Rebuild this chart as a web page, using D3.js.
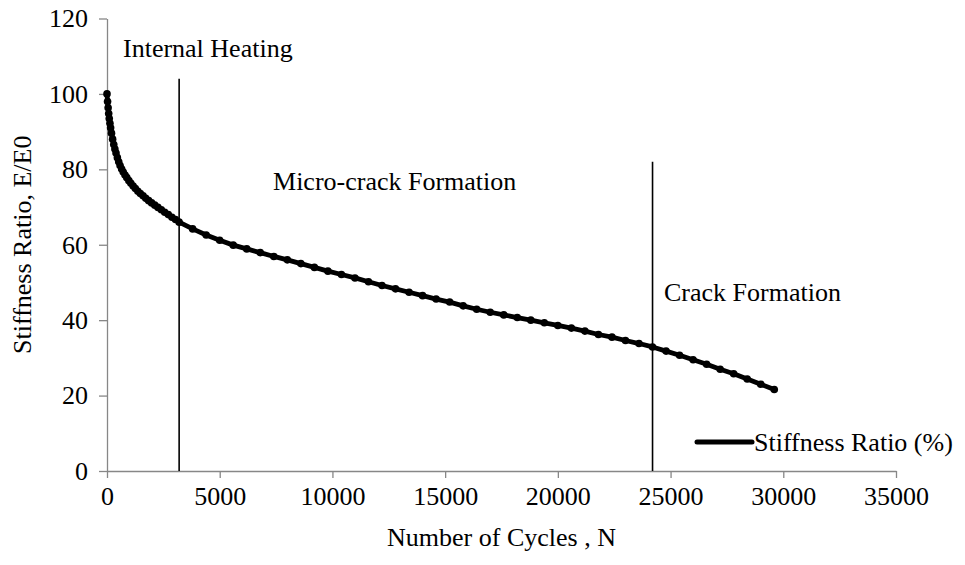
<!DOCTYPE html>
<html>
<head>
<meta charset="utf-8">
<script src="https://cdn.jsdelivr.net/npm/d3@7"></script>
<style>
  html, body { margin: 0; padding: 0; background: #fff; }
  svg { display: block; font-family: "Liberation Serif", "Times New Roman", serif; }
</style>
</head>
<body>
<svg id="chart" width="965" height="565"></svg>
<script>
// ---- data ----
const cycles = [0, 25, 50, 75, 100, 130, 160, 200, 250, 300, 350, 400, 460, 520, 580, 650, 720, 800, 880, 970,
  1060, 1160, 1260, 1370, 1480, 1600, 1720, 1850, 1980, 2120, 2260, 2410, 2560, 2720, 2880, 3040, 3200,
  3800, 4400, 5000, 5600, 6200, 6800, 7400, 8000, 8600, 9200, 9800, 10400, 11000, 11600, 12200, 12800,
  13400, 14000, 14600, 15200, 15800, 16400, 17000, 17600, 18200, 18800, 19400, 20000, 20600, 21200,
  21800, 22400, 23000, 23600, 24200, 24800, 25400, 26000, 26600, 27200, 27800, 28400, 29000, 29600];
const stiffness = [100, 98.0, 96.3, 94.8, 93.5, 92.2, 91.0, 89.6, 88.0, 86.6, 85.4, 84.3, 83.1, 82.0, 81.0, 80.1, 79.3, 78.5, 77.8, 77.0,
  76.3, 75.6, 74.9, 74.2, 73.6, 73.0, 72.3, 71.7, 71.1, 70.5, 69.9, 69.3, 68.6, 68.0, 67.3, 66.7, 66.0,
  64.2, 62.6, 61.2, 59.9, 58.9, 57.9, 56.9, 56.0, 55.0, 54.0, 53.0, 52.1, 51.2, 50.2, 49.2, 48.3,
  47.4, 46.5, 45.6, 44.8, 43.8, 42.9, 42.1, 41.4, 40.7, 40.0, 39.3, 38.6, 37.9, 37.1,
  36.2, 35.5, 34.6, 33.8, 32.9, 31.8, 30.7, 29.5, 28.3, 27.0, 25.8, 24.4, 23.0, 21.6];
const xTicks = [0, 5000, 10000, 15000, 20000, 25000, 30000, 35000];
const yTicks = [0, 20, 40, 60, 80, 100, 120];
const phaseLines = [{ n: 3200, top: 104 }, { n: 24200, top: 82 }];
const phaseLabels = [
  { text: "Internal Heating", n: 710, v: 109.7 },
  { text: "Micro-crack Formation", n: 7365, v: 74.4 },
  { text: "Crack Formation", n: 24710, v: 45.0 }
];
const seriesName = "Stiffness Ratio (%)";

// ---- chart ----
const svg = d3.select("#chart");
const x = d3.scaleLinear().domain([0, 35000]).range([107, 896]);
const y = d3.scaleLinear().domain([0, 120]).range([471, 18.5]);
const axisColor = "#878787";
const fs = 26;

// axes
const xAxis = svg.append("g").attr("transform", `translate(0,${y(0)})`)
  .call(d3.axisBottom(x).tickValues(xTicks).tickFormat(d3.format("d")).tickSizeInner(7).tickSizeOuter(0).tickPadding(9));
const yAxis = svg.append("g").attr("transform", `translate(${x(0)},0)`)
  .call(d3.axisLeft(y).tickValues(yTicks).tickFormat(d3.format("d")).tickSizeInner(8).tickSizeOuter(0).tickPadding(11));
[xAxis, yAxis].forEach(g => {
  g.select(".domain").attr("stroke", axisColor).attr("stroke-width", 1.3);
  g.selectAll(".tick line").attr("stroke", axisColor).attr("stroke-width", 1.3);
  g.selectAll(".tick text").attr("fill", "#000").attr("font-size", fs).attr("font-family", "Liberation Serif, serif");
});

// phase lines
svg.append("g").selectAll("line").data(phaseLines).join("line")
  .attr("x1", d => x(d.n)).attr("x2", d => x(d.n))
  .attr("y1", d => y(d.top)).attr("y2", y(0))
  .attr("stroke", "#000").attr("stroke-width", 1.6);

// series
const pts = cycles.map((c, i) => [c, stiffness[i]]);
svg.append("path").datum(pts)
  .attr("fill", "none").attr("stroke", "#000").attr("stroke-width", 4.8).attr("stroke-linejoin", "round")
  .attr("d", d3.line().x(d => x(d[0])).y(d => y(d[1])));
svg.append("g").selectAll("circle").data(pts).join("circle")
  .attr("cx", d => x(d[0])).attr("cy", d => y(d[1])).attr("r", 3.8).attr("fill", "#000");

// phase labels
svg.append("g").selectAll("text").data(phaseLabels).join("text")
  .attr("x", d => x(d.n)).attr("y", d => y(d.v))
  .attr("font-size", fs).attr("fill", "#000").text(d => d.text);

// axis titles
svg.append("text").attr("x", (x(0) + x(35000)) / 2).attr("y", 546)
  .attr("text-anchor", "middle").attr("font-size", fs).text("Number of Cycles , N");
svg.append("text").attr("transform", `translate(31,${y(60)}) rotate(-90)`)
  .attr("text-anchor", "middle").attr("font-size", fs).text("Stiffness Ratio, E/E0");

// legend
const lg = svg.append("g").attr("transform", "translate(695,442)");
lg.append("line").attr("x1", 2).attr("x2", 57).attr("y1", 0).attr("y2", 0)
  .attr("stroke", "#000").attr("stroke-width", 5).attr("stroke-linecap", "round");
lg.append("text").attr("x", 59).attr("y", 9).attr("font-size", fs).text(seriesName);
</script>
</body>
</html>
